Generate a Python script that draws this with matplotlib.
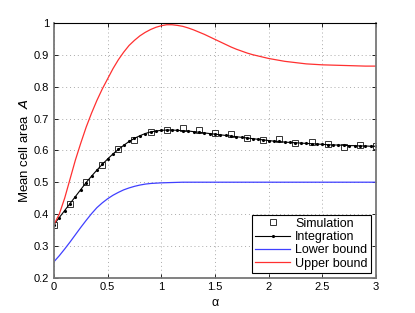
import matplotlib.pyplot as plt
import numpy as np

# alpha grid for the smooth curves, every 0.05
alpha = [0.0, 0.05, 0.1, 0.15, 0.2, 0.25, 0.3, 0.35, 0.4, 0.45, 0.5,
         0.55, 0.6, 0.65, 0.7, 0.75, 0.8, 0.85, 0.9, 0.95, 1.0,
         1.05, 1.1, 1.15, 1.2, 1.25, 1.3, 1.35, 1.4, 1.45, 1.5,
         1.55, 1.6, 1.65, 1.7, 1.75, 1.8, 1.85, 1.9, 1.95, 2.0,
         2.05, 2.1, 2.15, 2.2, 2.25, 2.3, 2.35, 2.4, 2.45, 2.5,
         2.55, 2.6, 2.65, 2.7, 2.75, 2.8, 2.85, 2.9, 2.95, 3.0]

upper_bound = [0.367, 0.40, 0.45, 0.51, 0.57, 0.623, 0.673, 0.717, 0.757, 0.793, 0.825,
               0.857, 0.885, 0.909, 0.93, 0.946, 0.96, 0.971, 0.98, 0.987, 0.992,
               0.995, 0.995, 0.993, 0.99, 0.985, 0.979, 0.972, 0.965, 0.957, 0.949,
               0.941, 0.933, 0.925, 0.918, 0.912, 0.906, 0.901, 0.897, 0.893, 0.889,
               0.886, 0.883, 0.880, 0.878, 0.876, 0.874, 0.872, 0.871, 0.870, 0.869,
               0.8685, 0.868, 0.8675, 0.867, 0.8665, 0.866, 0.8655, 0.865, 0.865, 0.865]

lower_bound = [0.25, 0.269, 0.29, 0.312, 0.335, 0.358, 0.38, 0.401, 0.42, 0.435, 0.448,
               0.459, 0.468, 0.476, 0.482, 0.487, 0.491, 0.494, 0.496, 0.497, 0.498,
               0.4985, 0.499, 0.4995, 0.5, 0.5, 0.5, 0.5, 0.5, 0.5, 0.5,
               0.5, 0.5, 0.5, 0.5, 0.5, 0.5, 0.5, 0.5, 0.5, 0.5,
               0.5, 0.5, 0.5, 0.5, 0.5, 0.5, 0.5, 0.5, 0.5, 0.5,
               0.5, 0.5, 0.5, 0.5, 0.5, 0.5, 0.5, 0.5, 0.5, 0.5]

integration = [0.367, 0.389, 0.411, 0.433, 0.455, 0.477, 0.499, 0.519, 0.538, 0.556, 0.573,
               0.589, 0.603, 0.616, 0.628, 0.638, 0.646, 0.653, 0.658, 0.661, 0.663,
               0.664, 0.664, 0.663, 0.662, 0.661, 0.659, 0.657, 0.655, 0.653, 0.651,
               0.649, 0.647, 0.645, 0.643, 0.641, 0.639, 0.637, 0.635, 0.633, 0.631,
               0.629, 0.628, 0.626, 0.625, 0.624, 0.623, 0.622, 0.621, 0.620, 0.619,
               0.618, 0.617, 0.617, 0.616, 0.615, 0.615, 0.614, 0.614, 0.613, 0.613]

# simulation points
alpha_sim = [0.0, 0.15, 0.3, 0.45, 0.6, 0.75, 0.9, 1.05, 1.2, 1.35, 1.5,
             1.65, 1.8, 1.95, 2.1, 2.25, 2.4, 2.55, 2.7, 2.85, 3.0]
simulation = [0.367, 0.433, 0.5, 0.553, 0.603, 0.632, 0.659, 0.663, 0.669, 0.664, 0.656,
              0.65, 0.638, 0.632, 0.637, 0.622, 0.627, 0.619, 0.611, 0.617, 0.614]

plt.rcParams['font.family'] = ['Liberation Sans', 'DejaVu Sans']

fig = plt.figure(figsize=(4.15, 3.13), dpi=100)
ax = fig.add_axes([0.130, 0.113, 0.776, 0.813])

ax.plot(alpha_sim, simulation, linestyle='none', marker='s', markersize=4.5,
        markerfacecolor='none', markeredgecolor='#333333', markeredgewidth=0.7,
        label='Simulation')
ax.plot(alpha, integration, color='black', linewidth=0.8, marker='.',
        markersize=2.5, label='Integration')
ax.plot(alpha, lower_bound, color='#4040ff', linewidth=0.9, label='Lower bound')
ax.plot(alpha, upper_bound, color='#ff3030', linewidth=0.9, label='Upper bound')

ax.set_xlim(0, 3)
ax.set_ylim(0.2, 1)
ax.set_xticks([0, 0.5, 1, 1.5, 2, 2.5, 3])
ax.set_xticklabels(['0', '0.5', '1', '1.5', '2', '2.5', '3'])
ax.set_yticks([0.2, 0.3, 0.4, 0.5, 0.6, 0.7, 0.8, 0.9, 1.0])
ax.set_yticklabels(['0.2', '0.3', '0.4', '0.5', '0.6', '0.7', '0.8', '0.9', '1'])
ax.tick_params(direction='in', labelsize=8, length=3, width=0.6, top=True, right=True)
ax.grid(True, linestyle=(0, (1, 3)), color='#aaaaaa', linewidth=0.7)

for side in ['left', 'bottom', 'right']:
    ax.spines[side].set_color('#777777')
    ax.spines[side].set_linewidth(1.3)
ax.spines['top'].set_color('black')
ax.spines['top'].set_linewidth(0.8)

ax.set_xlabel('α', fontsize=9, labelpad=3)
ax.set_ylabel('Mean cell area  $\\mathit{A}$', fontsize=9.5, labelpad=2)

leg = ax.legend(loc='lower right', fontsize=9, frameon=True, fancybox=False,
                edgecolor='black', framealpha=1, borderaxespad=0.4,
                handlelength=2.8, handletextpad=0.4, labelspacing=0.1,
                borderpad=0.25)
leg.get_frame().set_linewidth(0.8)

fig.savefig('out.png', dpi=100)
